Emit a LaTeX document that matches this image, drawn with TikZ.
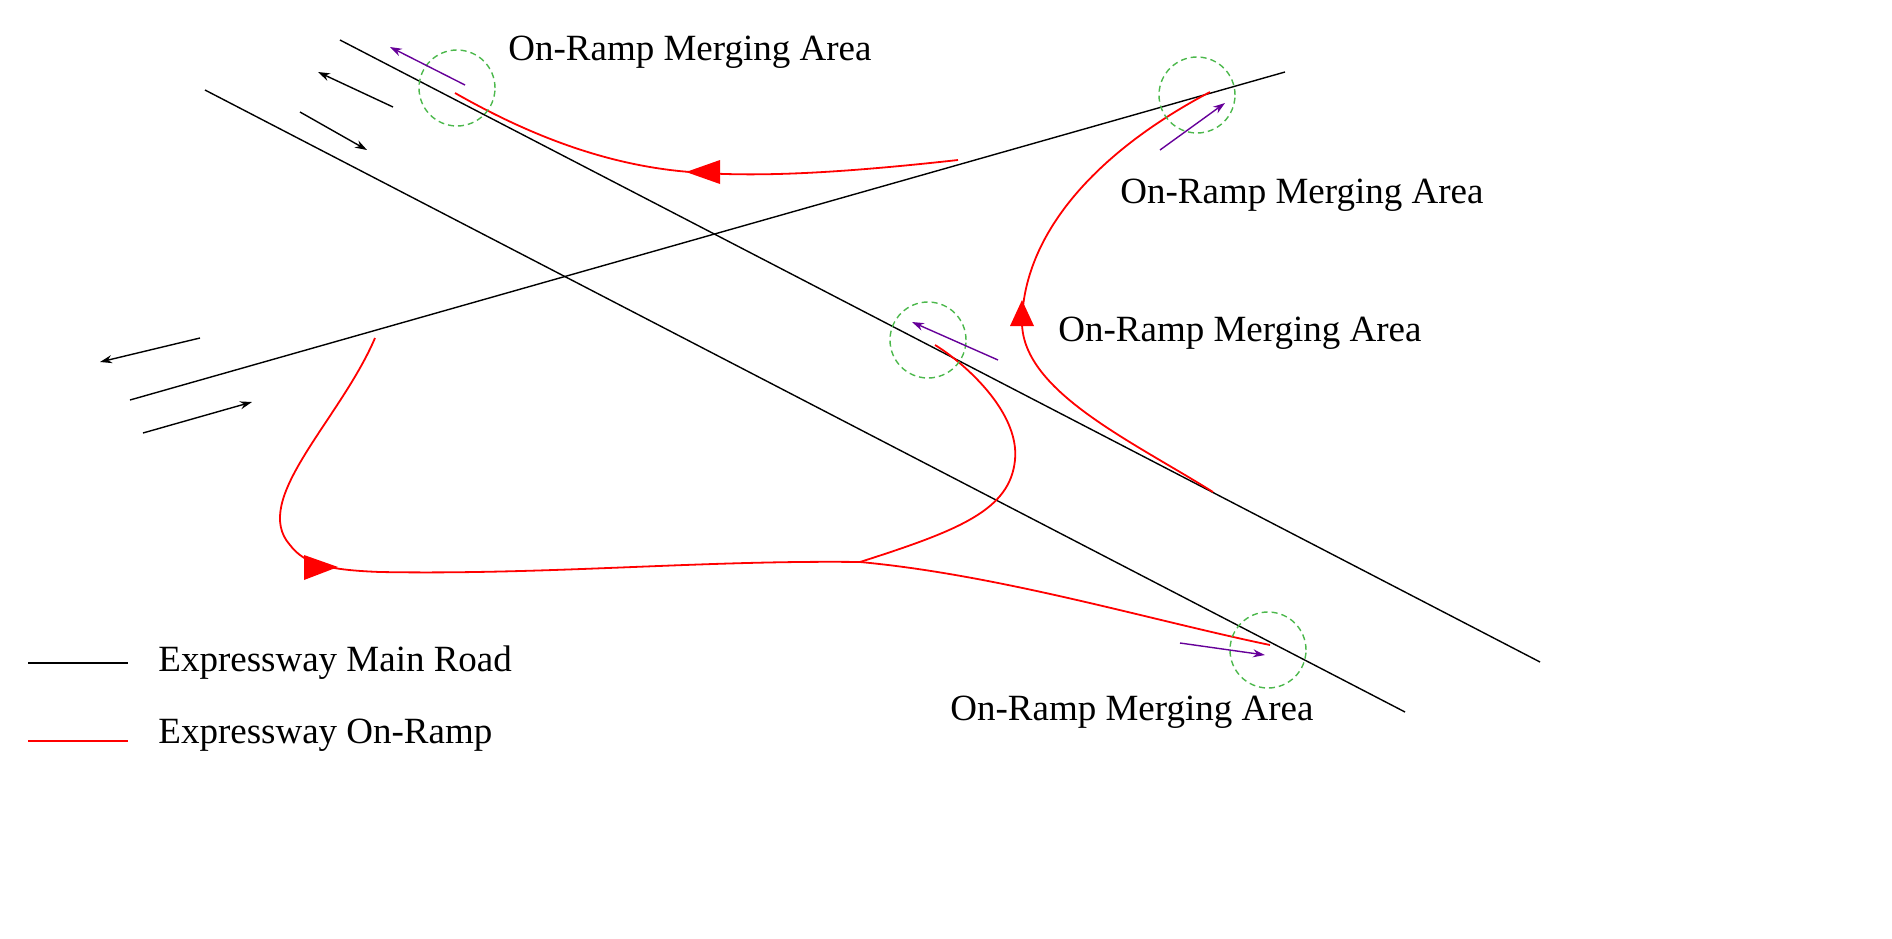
\documentclass[tikz,border=0pt]{standalone}
\usepackage{fontspec}
\setmainfont{Liberation Serif}
\usetikzlibrary{arrows.meta}
\begin{document}
\begin{tikzpicture}[x=0.5pt,y=-0.5pt,
 road/.style={black,line width=0.7pt},
 ramp/.style={red,line width=0.9pt},
 dir/.style={black,line width=0.7pt,-{Stealth[length=6pt,width=4pt]}},
 veh/.style={violet!80!blue,line width=0.7pt,-{Stealth[length=6pt,width=4pt]}},
 zone/.style={green!60!black!70,line width=0.7pt,dash pattern=on 3pt off 2pt},
 lbl/.style={font=\fontsize{18.5}{22}\selectfont,inner sep=0},
 tri/.style={red,fill=red}]
\useasboundingbox (0,0) rectangle (1892,938);
% roads
\coordinate (m1a) at (340,40); \coordinate (m1b) at (1540,662);
\coordinate (m2a) at (205,90); \coordinate (m2b) at (1405,712);
\coordinate (ca) at (130,400); \coordinate (cb) at (1285,72);
\draw[road] (m1a) -- (m1b);
\draw[road] (m2a) -- (m2b);
\draw[road] (ca) -- (cb);
% direction arrows
\coordinate (d1a) at (393,107); \coordinate (d1b) at (318,72);
\coordinate (d2a) at (300,112); \coordinate (d2b) at (367,150);
\coordinate (d3a) at (200,338); \coordinate (d3b) at (100,362);
\coordinate (d4a) at (143,433); \coordinate (d4b) at (252,402);
\draw[dir] (d1a) -- (d1b);
\draw[dir] (d2a) -- (d2b);
\draw[dir] (d3a) -- (d3b);
\draw[dir] (d4a) -- (d4b);
% ramps
\draw[ramp] (958,160) .. controls (850,172) and (760,178) .. (690,172)
  .. controls (600,165) and (520,130) .. (455,93);
\draw[ramp] (1213,492) .. controls (1130,440) and (1020,390) .. (1022,320)
  .. controls (1025,230) and (1100,150) .. (1210,92);
\draw[ramp] (375,338) .. controls (340,420) and (250,500) .. (290,545)
  .. controls (305,565) and (330,570) .. (380,572)
  .. controls (550,575) and (700,560) .. (860,562)
  .. controls (1000,575) and (1150,620) .. (1270,645);
\draw[ramp] (860,562) .. controls (960,530) and (1010,510) .. (1015,460)
  .. controls (1020,410) and (960,360) .. (935,345);
\fill[tri] (686,172) -- (720,160) -- (720,184) -- cycle;
\fill[tri] (1022,300) -- (1010,326) -- (1034,326) -- cycle;
\fill[tri] (338,567) -- (304,555) -- (304,580) -- cycle;
% zones
\node[zone,draw,circle,minimum size=38pt] (z1) at (457,88) {};
\node[zone,draw,circle,minimum size=38pt] (z2) at (1197,95) {};
\node[zone,draw,circle,minimum size=38pt] (z3) at (928,340) {};
\node[zone,draw,circle,minimum size=38pt] (z4) at (1268,650) {};
\draw[veh] (465,85) -- (390,47);
\draw[veh] (1160,150) -- (1225,103);
\draw[veh] (998,360) -- (912,322);
\draw[veh] (1180,643) -- (1265,655);
\node[lbl,anchor=west] (l1) at (508,52) {On-Ramp Merging Area};
\node[lbl,anchor=west] (l2) at (1120,195) {On-Ramp Merging Area};
\node[lbl,anchor=west] (l3) at (1058,333) {On-Ramp Merging Area};
\node[lbl,anchor=west] (l4) at (950,712) {On-Ramp Merging Area};
% legend
\coordinate (k1a) at (28,663); \coordinate (k1b) at (128,663);
\coordinate (k2a) at (28,741); \coordinate (k2b) at (128,741);
\draw[road] (k1a) -- (k1b);
\draw[red,line width=0.7pt] (k2a) -- (k2b);
\node[lbl,anchor=west] (t1) at (158,663) {Expressway Main Road};
\node[lbl,anchor=west] (t2) at (158,735) {Expressway On-Ramp};
\end{tikzpicture}
\end{document}
